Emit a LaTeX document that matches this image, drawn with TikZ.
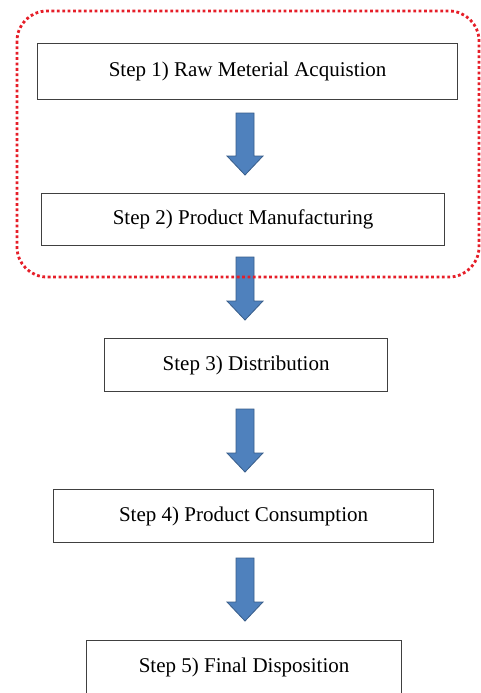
\documentclass[tikz,border=0pt]{standalone}
\usepackage{fontspec}
\setmainfont{Liberation Serif}
\begin{document}
\begin{tikzpicture}[x=1pt,y=-1pt,
  stepbox/.style={draw=black!75,line width=1.2pt,fill=white,font=\fontsize{21}{25}\selectfont},
  blockarrow/.style={fill={rgb,255:red,79;green,129;blue,189},draw={rgb,255:red,56;green,93;blue,138},line width=0.8pt,line join=miter},
  groupline/.style={draw={rgb,255:red,230;green,30;blue,40},line width=2.8pt,dash pattern=on 2.8pt off 2.6pt,rounded corners=30pt}
]
\useasboundingbox (0,0) rectangle (481,693);
\fill[white] (0,0) rectangle (481,693);
\node[stepbox,anchor=north west,minimum width=420pt,minimum height=56pt,inner sep=0] (s1) at (37,43) {Step 1) Raw Meterial Acquistion};
\node[stepbox,anchor=north west,minimum width=403pt,minimum height=52pt,inner sep=0] (s2) at (41,193) {Step 2) Product Manufacturing};
\node[stepbox,anchor=north west,minimum width=283pt,minimum height=53pt,inner sep=0] (s3) at (104,338) {Step 3) Distribution};
\node[stepbox,anchor=north west,minimum width=380pt,minimum height=53pt,inner sep=0] (s4) at (53,489) {Step 4) Product Consumption};
\node[stepbox,anchor=north west,minimum width=315pt,minimum height=53pt,inner sep=0] (s5) at (86,640) {Step 5) Final Disposition};
\foreach \t/\b in {113/175, 257/320, 409/472, 558/621}{
  \draw[blockarrow] (236,\t) -- (254,\t) -- (254,\b-19) -- (263,\b-19) -- (245,\b) -- (227,\b-19) -- (236,\b-19) -- cycle;
}
\draw[groupline] (17,11) rectangle (479,277);
\end{tikzpicture}
\end{document}
